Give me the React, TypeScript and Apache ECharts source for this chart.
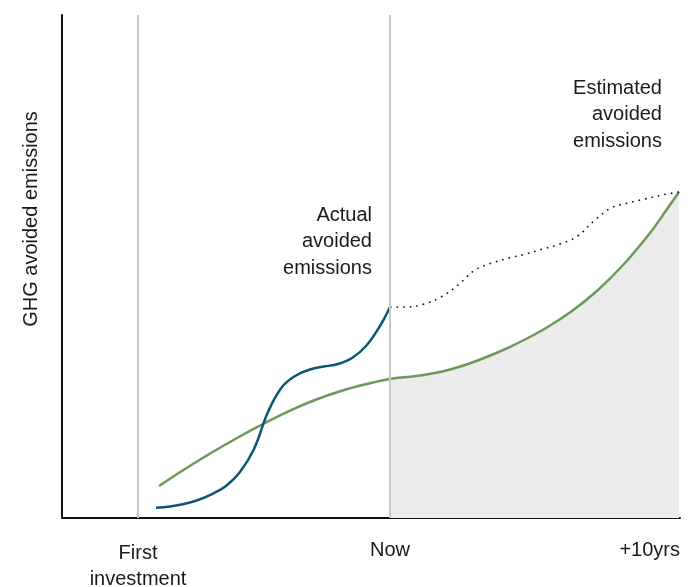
import React, { useEffect, useRef } from "react";
import * as echarts from "echarts";

// x: time axis (0..100 arbitrary units), y: avoided emissions (0..100)
const markerX = [12.3, 53.07];
const tickLabels = ["First\ninvestment", "Now", "+10yrs"];

const actualX = [15.21, 17.48, 19.74, 22.01, 24.27, 26.54, 28.8, 31.07, 33.33, 35.6, 37.86, 40.13, 42.39, 44.66, 46.93, 49.19, 51.46, 53.07];
const actualY = [2.05, 2.29, 2.78, 3.58, 4.77, 6.36, 9.15, 13.72, 21.07, 26.04, 28.33, 29.52, 30.12, 30.62, 31.81, 34.19, 38.17, 41.95];

const cumulativeX = [15.7, 19.9, 24.11, 28.32, 32.52, 36.73, 40.94, 45.15, 49.35, 53.07, 57.28, 61.49, 65.7, 69.9, 74.11, 78.32, 82.52, 86.73, 90.94, 95.15, 97.57, 99.84];
const cumulativeY = [6.36, 9.74, 12.92, 15.9, 18.69, 21.27, 23.46, 25.25, 26.64, 27.63, 28.23, 29.12, 30.62, 32.6, 34.99, 37.77, 41.15, 45.33, 50.5, 56.66, 60.83, 64.81];

const estimatedX = [53.07, 55.83, 58.58, 61.33, 64.08, 66.83, 69.58, 72.33, 75.08, 77.83, 80.58, 83.33, 86.08, 88.83, 91.59, 94.34, 97.09, 99.84];
const estimatedY = [41.95, 41.95, 42.54, 43.94, 46.32, 49.3, 50.7, 51.69, 52.49, 53.48, 54.47, 55.96, 59.05, 61.63, 62.62, 63.42, 64.21, 64.81];

const nowX = 53.07;

const zip = (xs: number[], ys: number[]) => xs.map((x, i) => [x, ys[i]]);

export default function App() {
  const ref = useRef<HTMLDivElement>(null);
  useEffect(() => {
    if (!ref.current) return;
    const chart = echarts.init(ref.current, null, { renderer: "svg" });
    const font = "'Liberation Sans', Arial, sans-serif";
    const textColor = "#1a1a1a";
    const cum = zip(cumulativeX, cumulativeY);
    const future = cum.filter((p) => p[0] >= nowX);
    const txt = (x: number, y: number, text: string, align: string, extra: any = {}) => ({
      type: "text",
      x,
      y,
      silent: true,
      style: {
        text,
        fill: textColor,
        font: `20px ${font}`,
        textAlign: align,
        textVerticalAlign: "middle",
        lineHeight: 26.5,
      },
      ...extra,
    });
    chart.setOption({
      animation: false,
      grid: { left: 62, right: 13, top: 15, bottom: 69 },
      xAxis: {
        type: "value",
        min: 0,
        max: 100,
        axisLine: { show: true, lineStyle: { color: "#111", width: 2 } },
        axisTick: { show: false },
        axisLabel: { show: false },
        splitLine: { show: false },
      },
      yAxis: {
        type: "value",
        min: 0,
        max: 100,
        axisLine: { show: true, lineStyle: { color: "#111", width: 2 } },
        axisTick: { show: false },
        axisLabel: { show: false },
        splitLine: { show: false },
      },
      series: [
        {
          type: "line",
          data: future,
          smooth: 0.4,
          symbol: "none",
          lineStyle: { width: 0, opacity: 0 },
          areaStyle: { color: "#ececec", opacity: 1 },
          z: 1,
          silent: true,
        },
        {
          type: "line",
          data: [],
          markLine: {
            silent: true,
            symbol: "none",
            label: { show: false },
            lineStyle: { color: "#c8c8c8", width: 2, type: "solid" },
            data: markerX.map((x) => ({ xAxis: x })),
          },
          z: 2,
        },
        {
          type: "line",
          data: cum,
          smooth: 0.4,
          symbol: "none",
          lineStyle: { color: "#6d985a", width: 2.5 },
          z: 3,
        },
        {
          type: "line",
          data: zip(actualX, actualY),
          smooth: 0.4,
          symbol: "none",
          lineStyle: { color: "#0b5675", width: 2.5 },
          z: 4,
        },
        {
          type: "line",
          data: zip(estimatedX, estimatedY),
          smooth: 0.4,
          symbol: "none",
          lineStyle: { color: "#111", width: 1.6, type: [1.6, 5] },
          z: 4,
        },
      ],
      graphic: [
        txt(30, 219, "GHG avoided emissions", "center", { rotation: Math.PI / 2 }),
        txt(138, 565, tickLabels[0], "center"),
        txt(390, 549, tickLabels[1], "center"),
        txt(680, 549, tickLabels[2], "right"),
        txt(372, 240, "Actual\navoided\nemissions", "right"),
        txt(662, 113, "Estimated\navoided\nemissions", "right"),
        txt(535, 448, "Estimated\ncumulative\navoided\nemissions", "center"),
      ],
    });
    return () => chart.dispose();
  }, []);
  return (
    <div
      ref={ref}
      style={{ position: "fixed", left: 0, top: 0, width: 693, height: 587 }}
    />
  );
}
